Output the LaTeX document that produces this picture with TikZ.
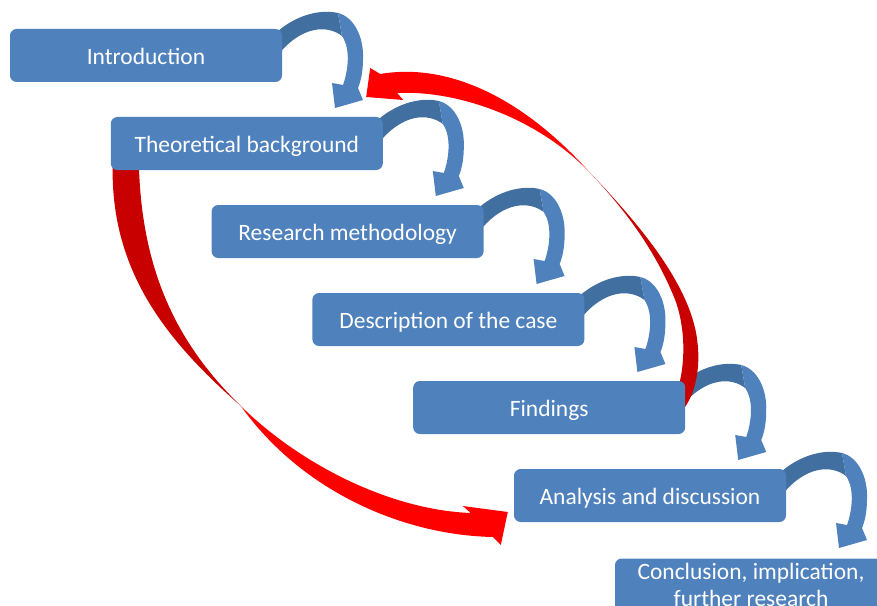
\documentclass[tikz,border=0pt]{standalone}
\usepackage{fontspec}
\setmainfont{Carlito}
\usetikzlibrary{backgrounds}
\definecolor{boxblue}{RGB}{79,129,189}
\definecolor{ribbonblue}{RGB}{65,111,160}
\definecolor{loopred}{RGB}{255,0,0}
\definecolor{loopdark}{RGB}{200,0,0}
\tikzset{
  phase/.style={fill=boxblue, rounded corners=5pt, minimum width=204pt, minimum height=39.75pt,
    inner sep=0pt, outer sep=0pt, text=white, align=center, font=\fontsize{17.6}{20.5}\selectfont},
  phaseline/.style={phase, text height=14pt, text depth=1.2pt}
}
\begin{document}
\begin{tikzpicture}[x=0.75pt,y=-0.75pt]
    \useasboundingbox (0,0) rectangle (877,606);
    \node[phaseline] (intro)    at (146,55.5)    {Introduction};
    \node[phaseline] (theory)   at (246.8,143.5) {Theoretical background};
    \node[phaseline] (method)   at (347.6,231.5) {Research methodology};
    \node[phaseline] (case)     at (448.4,319.5) {Description of the case};
    \node[phaseline] (findings) at (549.2,407.5) {Findings};
    \node[phaseline] (analysis) at (650,495.5)   {Analysis and discussion};
    \node[phase]     (concl)    at (751,585)     {Conclusion, implication,\\further research};
    \begin{scope}[on background layer]
        \foreach \a in {intro,theory,method,case,findings,analysis}{
            \begin{scope}[shift={(\a.north east)}]
                \fill[ribbonblue] (-4,2) .. controls (15,-14) and (38,-20) .. (56,-16) -- (60,7)
                    .. controls (46,-4) and (20,-4) .. (-4,26) -- cycle;
                \fill[boxblue] (56,-16) .. controls (72,-12) and (82,8) .. (81,30)
                    .. controls (81,42) and (79,52) .. (76,59) -- (81,71) -- (53,79) -- (50,54) -- (61,56)
                    .. controls (66,42) and (69,20) .. (60,7) -- cycle;
            \end{scope}
        }
        \begin{scope}[shift={(findings.north east)}]
            \fill[loopdark] (-95,-208) .. controls (-45,-156) and (5,-96) .. (12,-41)
                .. controls (16,-11) and (9,14) .. (-1,27) -- (-11,19)
                .. controls (1,-11) and (1,-51) .. (-10,-81)
                .. controls (-30,-131) and (-60,-171) .. cycle;
            \fill[loopred] (-95,-208) .. controls (-160,-281) and (-235,-319) .. (-305,-307)
                -- (-315,-313) -- (-319,-284) -- (-282,-281) -- (-288,-288)
                .. controls (-225,-291) and (-145,-261) .. cycle;
        \end{scope}
        \begin{scope}[shift={(theory.south west)}]
            \fill[loopdark] (2,-10) .. controls (-2,100) and (55,170) .. (130,236)
                .. controls (75,182) and (30,112) .. (28,-10) -- cycle;
            \fill[loopred] (130,236) .. controls (190,295) and (280,340) .. (360,343)
                -- (352,336) -- (397,342) -- (390,375) -- (382,367)
                .. controls (290,365) and (190,320) .. cycle;
        \end{scope}
    \end{scope}
\end{tikzpicture}
\end{document}
